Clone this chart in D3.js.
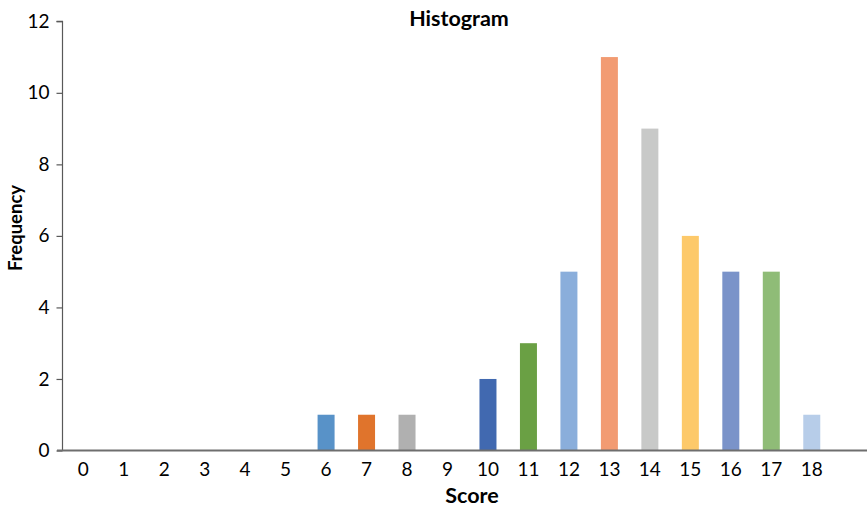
<!DOCTYPE html>
<html><head><meta charset="utf-8">
<script src="https://cdn.jsdelivr.net/npm/d3@7"></script>
<style>body{margin:0;background:#fff}svg{display:block}text{font-family:Lato,"Open Sans",sans-serif;fill:#000}</style>
</head><body>
<svg id="c" width="867" height="508"></svg>
<script>
const categories = ["0","1","2","3","4","5","6","7","8","9","10","11","12","13","14","15","16","17","18"];
const frequency = [0,0,0,0,0,0,1,1,1,0,2,3,5,11,9,6,5,5,1];
const barColors = ["#4472C4","#ED7D31","#A5A5A5","#FFC000","#5B9BD5","#70AD47","#5892C8","#E0742C","#B0B0B0","#FFC000","#4169B0","#6AA044","#8AAEDB","#F29B72","#C8C9C8","#FDC96A","#7A93C9","#8FBC77","#B7CDE9"];
const yTicks = [0,2,4,6,8,10,12];

const svg = d3.select("#c");
const x = d3.scaleBand().domain(categories).range([63, 832]);
const y = d3.scaleLinear().domain([0,12]).range([450.5, 21.3]);
const bw = x.bandwidth()*0.42;

svg.selectAll("rect.bar").data(frequency).join("rect")
  .attr("class","bar")
  .attr("x",(d,i)=>x(categories[i]) + (x.bandwidth()-bw)/2)
  .attr("width",bw)
  .attr("y",d=>y(d))
  .attr("height",d=>y(0)-y(d))
  .attr("fill",(d,i)=>barColors[i]);

// y axis
const ya = svg.append("g").attr("transform","translate(62.5,0)")
  .call(d3.axisLeft(y).tickValues(yTicks).tickSize(6).tickPadding(7));
ya.select(".domain").attr("stroke","#595959").attr("stroke-width",1.2).attr("d","M-6,21.3H0V450.5");
ya.selectAll(".tick line").attr("stroke","#595959").attr("stroke-width",1.2);
ya.selectAll(".tick text").attr("font-size",19).attr("font-family","Lato").attr("fill","#000");

// x axis
const xa = svg.append("g").attr("transform","translate(0,450.5)")
  .call(d3.axisBottom(x).tickSize(0).tickPadding(12));
xa.select(".domain").remove();
xa.selectAll(".tick text").attr("font-size",19).attr("font-family","Lato").attr("fill","#000");
svg.append("line").attr("x1",57).attr("x2",867).attr("y1",450.5).attr("y2",450.5)
  .attr("stroke","#6e6e6e").attr("stroke-width",2);

svg.append("text").attr("x",459).attr("y",26).attr("text-anchor","middle")
  .attr("font-size",21.5).attr("font-weight","bold").text("Histogram");
svg.append("text").attr("x",472).attr("y",503).attr("text-anchor","middle")
  .attr("font-size",21.5).attr("font-weight","bold").text("Score");
svg.append("text").attr("transform","translate(22,228) rotate(-90)").attr("text-anchor","middle")
  .attr("font-size",18.5).attr("font-weight","bold").text("Frequency");
</script>
</body></html>
